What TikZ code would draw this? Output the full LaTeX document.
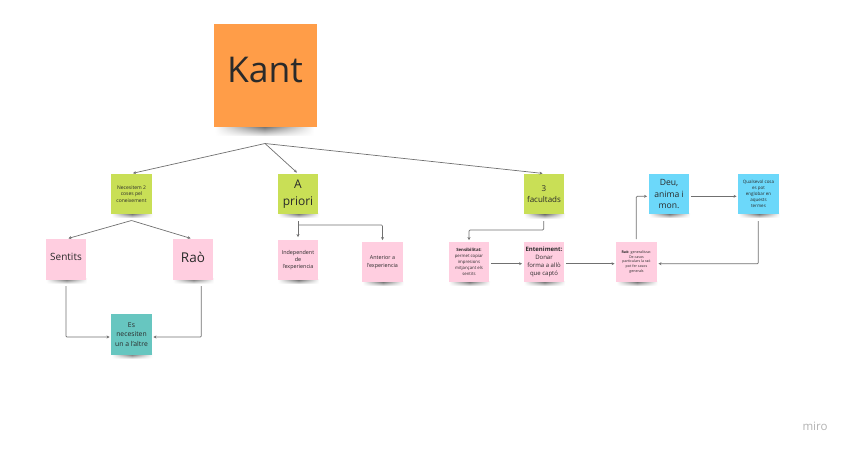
\documentclass[tikz,border=0pt]{standalone}
\usepackage{fontspec}
\setmainfont{Open Sans}
\usetikzlibrary{arrows.meta,fadings}

\definecolor{noteorange}{HTML}{FF9D48}
\definecolor{notegreen}{HTML}{C9DF56}
\definecolor{notepink}{HTML}{FFCEE0}
\definecolor{noteteal}{HTML}{67C6C0}
\definecolor{noteblue}{HTML}{6CD8FA}
\definecolor{inktext}{HTML}{2A2A2A}
\definecolor{linkgray}{HTML}{707070}

\tikzfading[name=softends,left color=transparent!100,right color=transparent!100,middle color=transparent!0]

\newcommand{\fs}[1]{\pgfmathsetmacro{\fsskip}{1.36*#1}\fontsize{#1}{\fsskip}\selectfont}

\tikzset{
  note/.style={inner sep=0pt,minimum size=40.5pt,align=center,text=inktext},
  greennote/.style={note,fill=notegreen},
  pinknote/.style={note,fill=notepink},
  size/.style={font=\fs{#1}},
  link/.style={-{Stealth[length=3pt,width=3pt]},draw=linkgray,line width=0.7pt,rounded corners=1pt,shorten >=1.5pt},
  shade strip/.style={top color=black!65,bottom color=black!10,draw=none,path fading=softends}
}

\begin{document}
\begin{tikzpicture}[x=1pt,y=-1pt]
\useasboundingbox (0,0) rectangle (848,450);

% Shadows go first
\coordinate (kantsw) at (215,125);
\coordinate (kantse) at (314,135);
\shade[shade strip] (kantsw) rectangle (kantse);
\foreach \x/\y in {131.5/214,298/214,544/214.5,66/279.5,193/279.5,131.5/354.5,298/280,382.5/282,469/282,544/282,636.5/282,669/214,758.5/214}
  \shade[shade strip] (\x-20,\y-1) rectangle (\x+21,\y+3.5);

% Notes
\node[note,fill=noteorange,minimum size=103pt,size=35.5] (kant) at (265,75) {\raisebox{10pt}{Kant}};

\node[greennote,size=5] (necesitem) at (131.5,194) {Necesitem 2\\coses pel\\coneixement};
\node[greennote,size=12] (apriori) at (298,194) {A\\priori};
\node[greennote,size=8] (facultads) at (544,194) {3\\facultads};

\node[pinknote,size=10] (sentits) at (66,259.5) {\raisebox{5.5pt}{Sentits}};
\node[pinknote,size=13.5] (rao) at (193,259.5) {\raisebox{5pt}{Raò}};
\node[note,fill=noteteal,size=6.8] (necessiten) at (131.5,334.5) {Es\\necesiten\\un a l'altre};

\node[pinknote,size=5.4] (independent) at (298,260) {Independent\\de\\l'experiencia};
\node[pinknote,size=5.4] (anterior) at (382.5,262) {Anterior a\\l'experiencia};

\node[pinknote,size=4.3] (sensibilitat) at (469,262) {\textbf{Sensibilitat:}\\permet copiar\\impresions\\mitjançant els\\sentits};
\node[pinknote,size=6] (enteniment) at (544,262) {\textbf{Enteniment:}\\Donar\\forma a allò\\que captó};
\node[pinknote,size=3.6] (raogen) at (636.5,262) {\textbf{Raò:} generalitzar.\\De casos\\particulars la raò\\pot fer casos\\generals};

\node[note,fill=noteblue,size=8.6] (deu) at (669,194) {Deu,\\anima i\\mon.};
\node[note,fill=noteblue,size=4.5] (qualsevol) at (758.5,194) {Qualsevol cosa\\es pot\\englobar en\\aquests\\termes};

% Free ends
\coordinate (kantout) at (265,143.5);
\coordinate (necesitemout) at (131.5,220.5);
\coordinate (aprioriout) at (298,221);
\coordinate (apriorifork) at (298,225);
\coordinate (facultadsout) at (543.7,221);
\coordinate (facultadsturn) at (469,230);
\coordinate (sentitsout) at (66,286);
\coordinate (raoout) at (201.3,286);
\coordinate (raogenout) at (636.3,239);
\coordinate (qualsevolout) at (758.3,221);

% Kant
\draw[link] (kantout) -- (necesitem.north);
\draw[link] (kantout) -- (apriori.north);
\draw[link] (kantout) -- (facultads.north);

% Necesitem 2 coses
\draw[link,shorten >=2.5pt] (necesitemout) -- (sentits.north);
\draw[link,shorten >=2.5pt] (necesitemout) -- (rao.north);
\draw[link] (sentitsout) |- ([yshift=-2.5pt]necessiten.west);
\draw[link] (raoout) |- ([yshift=-2.5pt]necessiten.east);

% A priori
\draw[link,shorten >=2.5pt] (aprioriout) -- (independent.north);
\draw[link] (apriorifork) -| (anterior.north);

% 3 facultads
\draw[link] (facultadsout) |- (facultadsturn) -- (sensibilitat.north);
\draw[link,shorten <=1.5pt] ([yshift=-1.7pt]sensibilitat.east) -- ([yshift=-1.7pt]enteniment.west);
\draw[link,shorten <=1.5pt] ([yshift=-1.7pt]enteniment.east) -- ([yshift=-1.7pt]raogen.west);
\draw[link] (raogenout) |- ([yshift=-2.3pt]deu.west);
\draw[link,shorten <=1.5pt] ([yshift=-2.3pt]deu.east) -- ([yshift=-2.3pt]qualsevol.west);
\draw[link] (qualsevolout) |- ([yshift=-1.7pt]raogen.east);

% Logo
\node[text=black!30,inner sep=0pt,size=11.5] (logo) at (815,426) {miro};

\end{tikzpicture}
\end{document}
